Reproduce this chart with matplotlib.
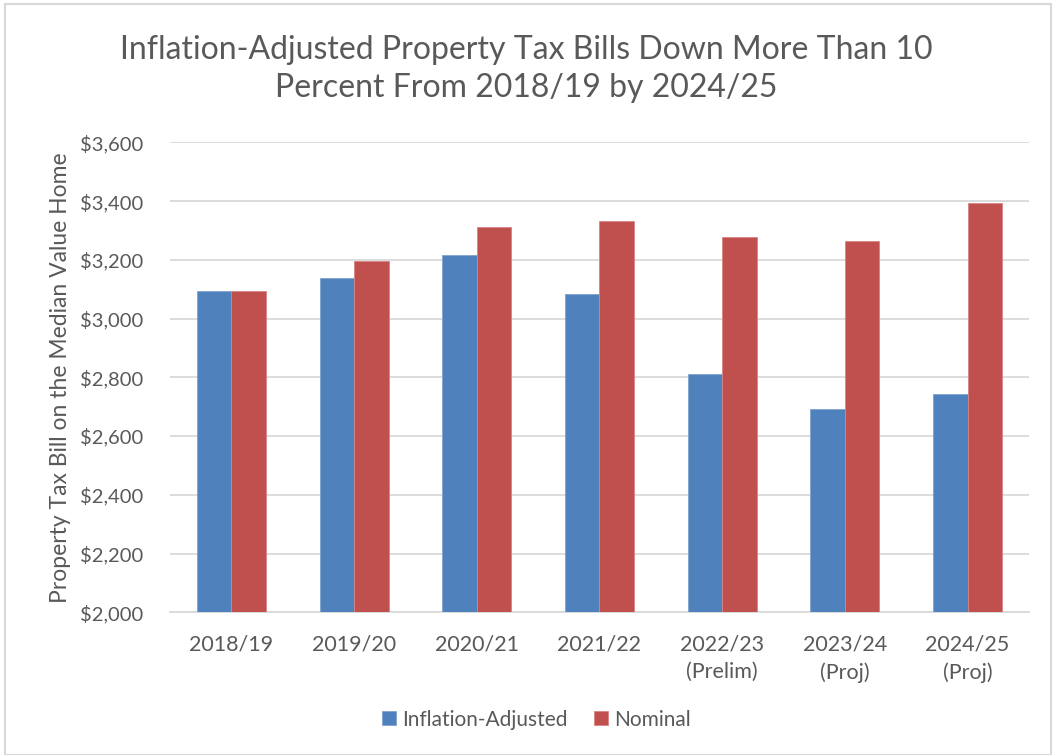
import numpy as np
import matplotlib
matplotlib.use("Agg")
import matplotlib.pyplot as plt
from matplotlib.patches import Rectangle
from matplotlib.ticker import FuncFormatter

plt.rcParams['font.family'] = ['Lato', 'DejaVu Sans']

categories = ["2018/19", "2019/20", "2020/21", "2021/22",
              "2022/23\n(Prelim)", "2023/24\n(Proj)", "2024/25\n(Proj)"]
inflation_adjusted = [3093, 3139, 3217, 3085, 2810, 2693, 2744]
nominal = [3093, 3197, 3313, 3331, 3277, 3263, 3392]

blue = "#4F81BD"
red = "#C0504D"
grey_text = "#595959"

fig = plt.figure(figsize=(10.52, 7.55), dpi=100)
ax = fig.add_axes([0.1616, 0.189, 0.8164, 0.6225])

x = np.arange(len(categories))
w = 0.281
ax.bar(x - w / 2, inflation_adjusted, w, color=blue, label="Inflation-Adjusted",
       edgecolor="#7fa3cf", linewidth=0.6, zorder=3)
ax.bar(x + w / 2, nominal, w, color=red, label="Nominal",
       edgecolor="#d98583", linewidth=0.6, zorder=3)

ax.set_xlim(-0.5, len(categories) - 0.5)
ax.set_ylim(2000, 3600)
ax.set_yticks(np.arange(2000, 3601, 200))
ax.yaxis.set_major_formatter(FuncFormatter(lambda v, p: f"${v:,.0f}"))
ax.set_xticks(x)
ax.set_xticklabels(categories, fontsize=15.5, color=grey_text, linespacing=1.45)
ax.tick_params(axis='y', labelsize=14.5, labelcolor=grey_text, length=0, pad=19)
ax.tick_params(axis='x', length=0, pad=16)

ax.grid(axis='y', color="#d9d9d9", linewidth=1.3, zorder=0)
for s in ["top", "right", "left"]:
    ax.spines[s].set_visible(False)
ax.spines["bottom"].set_color("#d9d9d9")
ax.spines["bottom"].set_linewidth(1.3)

ax.set_ylabel("Property Tax Bill on the Median Value Home", fontsize=16.5,
              color=grey_text)
ax.yaxis.set_label_coords(-0.115, 0.5)

fig.text(0.5, 0.909, "Inflation-Adjusted Property Tax Bills Down More Than 10\n"
         "Percent From 2018/19 by 2024/25",
         ha="center", va="center", fontsize=23, color=grey_text, linespacing=1.32)

fig.legend(loc="center", bbox_to_anchor=(0.51, 0.047), ncol=2, frameon=False,
           fontsize=15, labelcolor=grey_text, handlelength=0.65, handleheight=0.65,
           handletextpad=0.3, columnspacing=1.3)

fig.patches.append(Rectangle((0.005, 0.0), 0.994, 0.995, transform=fig.transFigure,
                             fill=False, edgecolor="#d9d9d9", linewidth=1.5))

fig.savefig("out.png", dpi=100)
